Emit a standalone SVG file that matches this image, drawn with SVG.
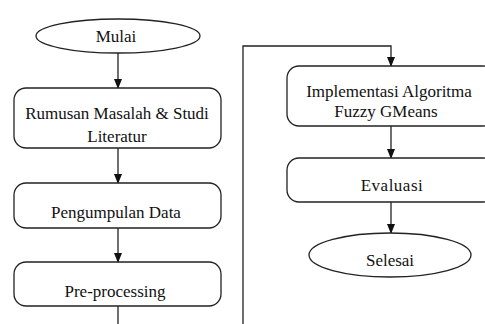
<svg xmlns="http://www.w3.org/2000/svg" width="485" height="324" viewBox="0 0 485 324">
<defs>
<style>
.n{fill:#fff;stroke:#222;stroke-width:1.3}
.t{font-size:17px;fill:#111;text-anchor:middle}
.c{fill:none;stroke:#222;stroke-width:1.3}
</style>
<marker id="ah" markerWidth="10" markerHeight="10" refX="9" refY="5" orient="auto" markerUnits="userSpaceOnUse">
<path d="M0,1 L10,5 L0,9 Z" fill="#111"/>
</marker>
</defs>
<rect width="485" height="324" fill="#fff"/>
<g id="connectors">
<line class="c" x1="118" y1="53" x2="118" y2="88" marker-end="url(#ah)"/>
<line class="c" x1="118" y1="148" x2="118" y2="183" marker-end="url(#ah)"/>
<line class="c" x1="118" y1="228" x2="118" y2="262" marker-end="url(#ah)"/>
<line class="c" x1="118" y1="306" x2="118" y2="324"/>
<polyline class="c" points="243,324 243,46 391,46 391,66" marker-end="url(#ah)"/>
<line class="c" x1="391" y1="126" x2="391" y2="158" marker-end="url(#ah)"/>
<line class="c" x1="391" y1="202" x2="391" y2="233" marker-end="url(#ah)"/>
</g>
<g font-family="Liberation Serif, Times New Roman, serif">
<g id="mulai">
<ellipse class="n" cx="118" cy="36" rx="82" ry="17"/>
<text class="t" x="116" y="42">Mulai</text>
</g>
<g id="rumusan">
<rect class="n" x="14" y="88" width="207" height="60" rx="12"/>
<text class="t" x="117" y="119">Rumusan Masalah  &amp; Studi</text>
<text class="t" x="117" y="142">Literatur</text>
</g>
<g id="pengumpulan">
<rect class="n" x="14" y="183" width="207" height="45" rx="12"/>
<text class="t" x="116" y="218">Pengumpulan Data</text>
</g>
<g id="preprocessing">
<rect class="n" x="14" y="262" width="207" height="44" rx="12"/>
<text class="t" x="115" y="297">Pre-processing</text>
</g>
<g id="implementasi">
<rect class="n" x="287" y="66" width="208" height="60" rx="12"/>
<text class="t" x="389" y="97">Implementasi Algoritma</text>
<text class="t" x="386" y="117">Fuzzy GMeans</text>
</g>
<g id="evaluasi">
<rect class="n" x="287" y="158" width="208" height="44" rx="12"/>
<text class="t" x="392" y="191" letter-spacing="0.5">Evaluasi</text>
</g>
<g id="selesai">
<ellipse class="n" cx="390" cy="255" rx="81" ry="22"/>
<text class="t" x="390" y="266">Selesai</text>
</g>
</g>
</svg>
